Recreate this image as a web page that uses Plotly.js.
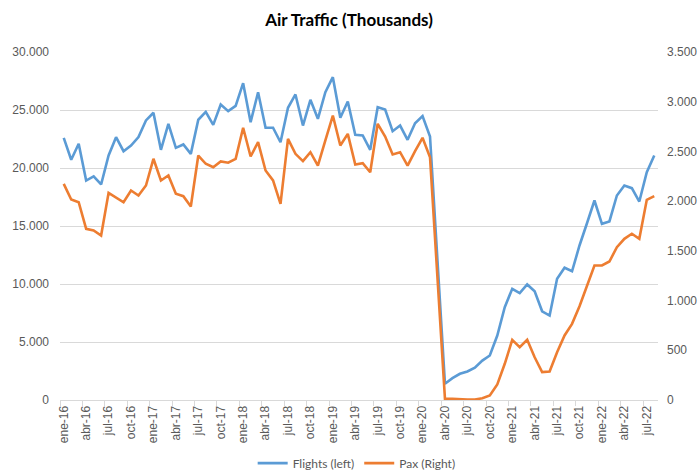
<!DOCTYPE html>
<html>
<head>
<meta charset="utf-8">
<script src="https://cdn.plot.ly/plotly-3.0.1.min.js"></script>
<style>html,body{margin:0;padding:0;background:#fff}#chart{width:698px;height:474px}</style>
</head>
<body>
<div id="chart"></div>
<script>
const months = [
  "ene-16","feb-16","mar-16","abr-16","may-16","jun-16","jul-16","ago-16","sep-16","oct-16","nov-16","dic-16",
  "ene-17","feb-17","mar-17","abr-17","may-17","jun-17","jul-17","ago-17","sep-17","oct-17","nov-17","dic-17",
  "ene-18","feb-18","mar-18","abr-18","may-18","jun-18","jul-18","ago-18","sep-18","oct-18","nov-18","dic-18",
  "ene-19","feb-19","mar-19","abr-19","may-19","jun-19","jul-19","ago-19","sep-19","oct-19","nov-19","dic-19",
  "ene-20","feb-20","mar-20","abr-20","may-20","jun-20","jul-20","ago-20","sep-20","oct-20","nov-20","dic-20",
  "ene-21","feb-21","mar-21","abr-21","may-21","jun-21","jul-21","ago-21","sep-21","oct-21","nov-21","dic-21",
  "ene-22","feb-22","mar-22","abr-22","may-22","jun-22","jul-22","ago-22"
];

const flights = [
  22600,20710,22090,18920,19270,18580,21080,22660,21450,21940,22660,24100,
  24760,21570,23810,21740,22030,21220,24160,24840,23720,25470,24900,25360,
  27310,23950,26530,23470,23470,22220,25190,26340,23660,25880,24240,26530,
  27830,24330,25730,22860,22800,21570,25240,25040,23170,23660,22430,23860,
  24470,22720,12000,1400,1880,2260,2460,2780,3400,3840,5560,8000,
  9590,9210,9960,9380,7650,7280,10450,11400,11100,13320,15240,17200,
  15190,15390,17630,18490,18260,17110,19640,21080
];

const pax = [
  2174,2016,1989,1722,1705,1654,2084,2040,1989,2107,2057,2157,
  2426,2208,2258,2074,2050,1946,2459,2376,2341,2399,2386,2426,
  2738,2449,2593,2308,2208,1973,2627,2476,2402,2492,2358,2610,
  2861,2560,2677,2369,2382,2291,2778,2650,2469,2492,2358,2502,
  2637,2442,1220,12,12,5,5,5,18,45,156,364,
  605,531,605,430,280,287,481,649,766,943,1152,1353,
  1353,1393,1537,1621,1672,1621,2013,2050
];

const seriesNames = ["Flights (left)", "Pax (Right)"];
const titleText = "Air Traffic (Thousands)";

const font = "Lato, 'Open Sans', 'DejaVu Sans', sans-serif";
const tickFontFamily = "'Liberation Sans', Arial, sans-serif";
const grey = "#595959";

const traces = [
  {x: months, y: flights, name: seriesNames[0], type: "scatter", mode: "lines",
   line: {color: "#5B9BD5", width: 2.6}, yaxis: "y", hoverinfo: "skip"},
  {x: months, y: pax, name: seriesNames[1], type: "scatter", mode: "lines",
   line: {color: "#ED7D31", width: 2.6}, yaxis: "y2", hoverinfo: "skip"}
];

const layout = {
  width: 698, height: 474,
  margin: {l: 60, r: 40, t: 51.5, b: 74, autoexpand: false},
  paper_bgcolor: "#fff", plot_bgcolor: "#fff",
  separators: ",.",
  font: {family: tickFontFamily, size: 12, color: grey},
  title: {text: "<b>" + titleText + "</b>", x: 0.5, xanchor: "center", y: 0.957, yanchor: "middle",
          font: {family: font, size: 17, color: "#000"}},
  showlegend: true,
  legend: {orientation: "h", x: 0.511, xanchor: "center", xref: "container",
           y: 0.023, yanchor: "middle", yref: "container",
           font: {family: font, size: 12, color: grey}, itemwidth: 30, tracegroupgap: 0},
  xaxis: {type: "category", range: [-0.5, months.length - 0.5], dtick: 3, automargin: false,
          tickangle: -90, tickson: "boundaries", ticks: "outside", ticklen: 5,
          tickcolor: "#d9d9d9", showline: true, linecolor: "#d9d9d9", linewidth: 1,
          showgrid: false, zeroline: false, tickfont: {family: tickFontFamily, size: 12, color: grey},
          fixedrange: true},
  yaxis: {range: [0, 30000], dtick: 5000, tickformat: ",d", showgrid: true, automargin: false,
          gridcolor: "#d9d9d9", gridwidth: 1, zeroline: false, showline: false,
          ticks: "", ticklabelstandoff: 10, tickfont: {family: tickFontFamily, size: 12, color: grey}, fixedrange: true},
  yaxis2: {range: [0, 3500], dtick: 500, tickformat: ",d", overlaying: "y", side: "right", automargin: false,
           showgrid: false, zeroline: false, showline: false, ticks: "", ticklabelstandoff: 8,
           tickfont: {family: tickFontFamily, size: 12, color: grey}, fixedrange: true}
};

Plotly.newPlot("chart", traces, layout, {staticPlot: true, displayModeBar: false});
</script>
</body>
</html>
